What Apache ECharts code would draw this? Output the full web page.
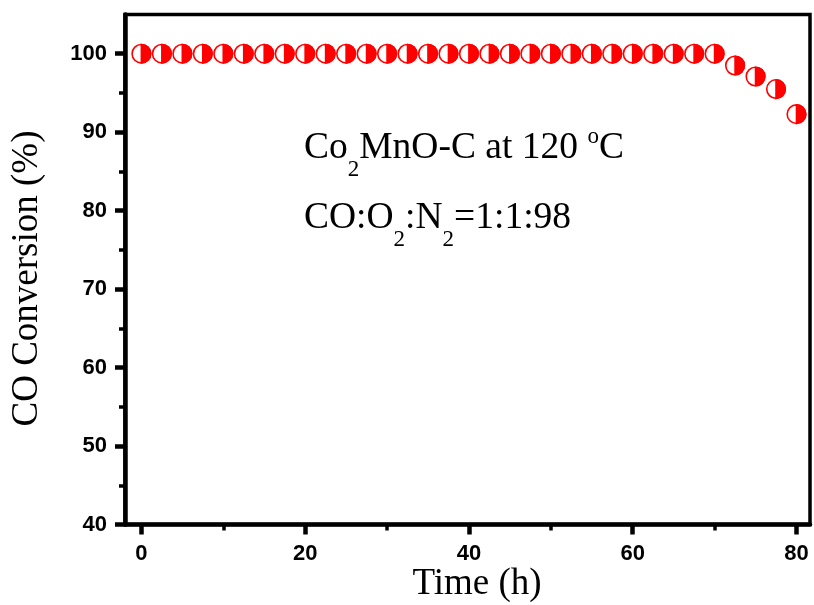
<!DOCTYPE html>
<html>
<head>
<meta charset="utf-8">
<script src="https://cdn.jsdelivr.net/npm/echarts@6/dist/echarts.min.js"></script>
<style>
  html, body { margin: 0; padding: 0; background: #fff; }
  #chart { width: 814px; height: 605px; }
</style>
</head>
<body>
<div id="chart"></div>
<script>
// Stability run: time on stream (h) and CO conversion (%)
const timeH = [0, 2.5, 5, 7.5, 10, 12.5, 15, 17.5, 20, 22.5, 25, 27.5, 30, 32.5, 35, 37.5,
  40, 42.5, 45, 47.5, 50, 52.5, 55, 57.5, 60, 62.5, 65, 67.5, 70, 72.5, 75, 77.5, 80];
const conversion = [100, 100, 100, 100, 100, 100, 100, 100, 100, 100, 100, 100, 100, 100, 100, 100,
  100, 100, 100, 100, 100, 100, 100, 100, 100, 100, 100, 100, 100, 98.5, 97.1, 95.5, 92.3];

const xMajorTicks = [0, 20, 40, 60, 80];
const xMinorTicks = [10, 30, 50, 70];
const yMajorTicks = [40, 50, 60, 70, 80, 90, 100];
const yMinorTicks = [45, 55, 65, 75, 85, 95];

const xTitle = 'Time (h)';
const yTitle = 'CO Conversion (%)';

const RED = '#ff0000';
const SERIF = "'Times New Roman', 'Liberation Serif', serif";
const SANS = "Arial, 'Liberation Sans', sans-serif";

const chart = echarts.init(document.getElementById('chart'), null, { renderer: 'canvas' });

const points = timeH.map((t, i) => [t, conversion[i]]);

const tickLabel = { fontFamily: SANS, fontWeight: 'bold', fontSize: 22, color: '#000' };

// rich-text pieces for chemical formulae (subscripts dropped below the baseline)
const mainText = { fontFamily: SERIF, fontSize: 37.5, lineHeight: 44, verticalAlign: 'top', padding: [6, 0, 0, 0], color: '#000' };
const subText = { fontFamily: SERIF, fontSize: 23, lineHeight: 22, verticalAlign: 'top', padding: [35, 0, 0, 0], color: '#000' };
const supText = { fontFamily: SERIF, fontSize: 23, lineHeight: 22, verticalAlign: 'top', padding: [1.5, 0, 0, 0], color: '#000' };

chart.setOption({
  animation: false,
  backgroundColor: '#fff',
  grid: {
    left: 125, right: 4, top: 14.5, bottom: 80.5,
    show: true, borderColor: '#000', borderWidth: 3.5, backgroundColor: 'transparent'
  },
  xAxis: [{
    type: 'value', min: -2, max: 81.65,
    axisLine: { show: true, onZero: false, lineStyle: { color: '#000', width: 4.5 } },
    axisTick: { show: true, customValues: xMajorTicks, length: 10, lineStyle: { color: '#000', width: 4.5 } },
    axisLabel: { customValues: xMajorTicks, margin: 18, ...tickLabel },
    splitLine: { show: false }
  }, {
    type: 'value', min: -2, max: 81.65, position: 'bottom',
    axisLine: { show: false, onZero: false },
    axisTick: { show: true, customValues: xMinorTicks, length: 6, lineStyle: { color: '#000', width: 3.5 } },
    axisLabel: { show: false },
    splitLine: { show: false }
  }],
  yAxis: [{
    type: 'value', min: 40, max: 105,
    axisLine: { show: true, onZero: false, lineStyle: { color: '#000', width: 4.5 } },
    axisTick: { show: true, customValues: yMajorTicks, length: 10, lineStyle: { color: '#000', width: 4.5 } },
    axisLabel: { customValues: yMajorTicks, margin: 18, ...tickLabel },
    splitLine: { show: false }
  }, {
    type: 'value', min: 40, max: 105, position: 'left',
    axisLine: { show: false, onZero: false },
    axisTick: { show: true, customValues: yMinorTicks, length: 6, lineStyle: { color: '#000', width: 3.5 } },
    axisLabel: { show: false },
    splitLine: { show: false }
  }],
  series: [{
    type: 'custom',
    xAxisIndex: 0,
    yAxisIndex: 0,
    clip: false,
    data: points,
    encode: { x: 0, y: 1 },
    // half-filled circle: white left half, red right half, red outline
    renderItem: function (params, api) {
      const p = api.coord([api.value(0), api.value(1)]);
      const r = 9.3;
      return {
        type: 'group',
        children: [{
          type: 'circle',
          shape: { cx: p[0], cy: p[1], r: r },
          style: { fill: '#fff', stroke: RED, lineWidth: 1.6 }
        }, {
          type: 'sector',
          shape: { cx: p[0], cy: p[1], r0: 0, r: r, startAngle: -Math.PI / 2, endAngle: Math.PI / 2, clockwise: true },
          style: { fill: RED, stroke: RED, lineWidth: 1.6 }
        }]
      };
    }
  }],
  graphic: [{
    type: 'text',
    left: 304, top: 123.5,
    style: {
      text: '{m|Co}{s|2}{m|MnO-C at 120 }{p|o}{m|C}',
      rich: { m: mainText, s: subText, p: supText }
    }
  }, {
    type: 'text',
    left: 304, top: 193.5,
    style: {
      text: '{m|CO:O}{s|2}{m|:N}{s|2}{m|=1:1:98}',
      rich: { m: mainText, s: subText }
    }
  }, {
    type: 'text',
    x: 477, y: 584.5,
    style: {
      text: xTitle, fontFamily: SERIF, fontSize: 37, fill: '#000',
      align: 'center', verticalAlign: 'middle'
    }
  }, {
    type: 'text',
    x: 27, y: 278.5, rotation: Math.PI / 2,
    style: {
      text: yTitle, fontFamily: SERIF, fontSize: 37, fill: '#000',
      align: 'center', verticalAlign: 'middle'
    }
  }]
});
</script>
</body>
</html>
